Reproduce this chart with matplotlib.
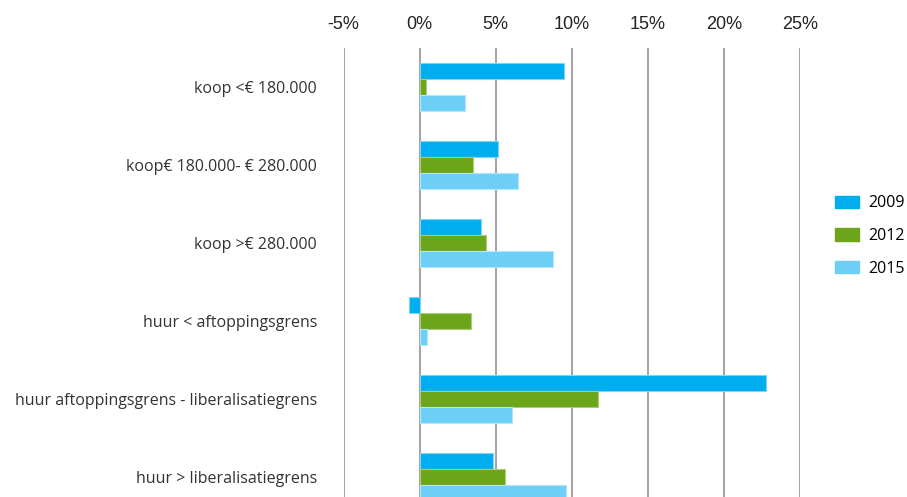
import numpy as np
import matplotlib.pyplot as plt
from matplotlib.patches import Patch

# price change per housing segment, in percent
categories = ["koop <€ 180.000",
              "koop€ 180.000- € 280.000",
              "koop >€ 280.000",
              "huur < aftoppingsgrens",
              "huur aftoppingsgrens - liberalisatiegrens",
              "huur > liberalisatiegrens"]
years = ["2009", "2012", "2015"]
values_2009 = [9.5, 5.15, 4.05, -0.7, 22.75, 4.8]
values_2012 = [0.4, 3.5, 4.35, 3.35, 11.75, 5.6]
values_2015 = [3.0, 6.45, 8.75, 0.5, 6.05, 9.65]
x_ticks = [-5, 0, 5, 10, 15, 20, 25]

colors = ["#00AEEF", "#6CA519", "#6DCFF6"]
edges = ["#7FD5F7", "#A9CC7A", "#B3E6FA"]

fig = plt.figure(figsize=(9.07, 4.97), dpi=100)
ax = fig.add_axes([343.5 / 907, 0, (800 - 343.5) / 907, 1 - 48 / 497])

pos = np.arange(len(categories))
h = 16 / 78.0
for i, vals in enumerate([values_2009, values_2012, values_2015]):
    ax.barh(pos + (i - 1) * h, vals, height=h, color=colors[i],
            edgecolor=edges[i], linewidth=0.8, zorder=3)

ax.set_xlim(-5, 25)
ax.set_ylim(5 + 20 / 78.0, -0.5)
ax.set_xticks(x_ticks)
ax.set_xticklabels([f"{t}%" for t in x_ticks], fontsize=13,
                   family="Liberation Sans", color="#222222")
ax.xaxis.tick_top()
ax.tick_params(axis="x", length=0, pad=11)
ax.set_yticks(pos)
ax.set_yticklabels(categories, fontsize=11.5, family="Open Sans",
                   color="#333333")
ax.tick_params(axis="y", length=0, pad=19)
ax.grid(axis="x", color="#A6A6A6", linewidth=1.5, zorder=0)
for s in ax.spines.values():
    s.set_visible(False)

handles = [Patch(facecolor=c, edgecolor=c) for c in colors]
fig.legend(handles, years, loc="upper left", bbox_to_anchor=(821 / 907, 1 - 181 / 497),
           frameon=False, handlelength=1.45, handleheight=0.8,
           handletextpad=0.6, labelspacing=1.05,
           prop={"family": "Open Sans", "size": 11.5})

fig.savefig("out.png", dpi=100)
